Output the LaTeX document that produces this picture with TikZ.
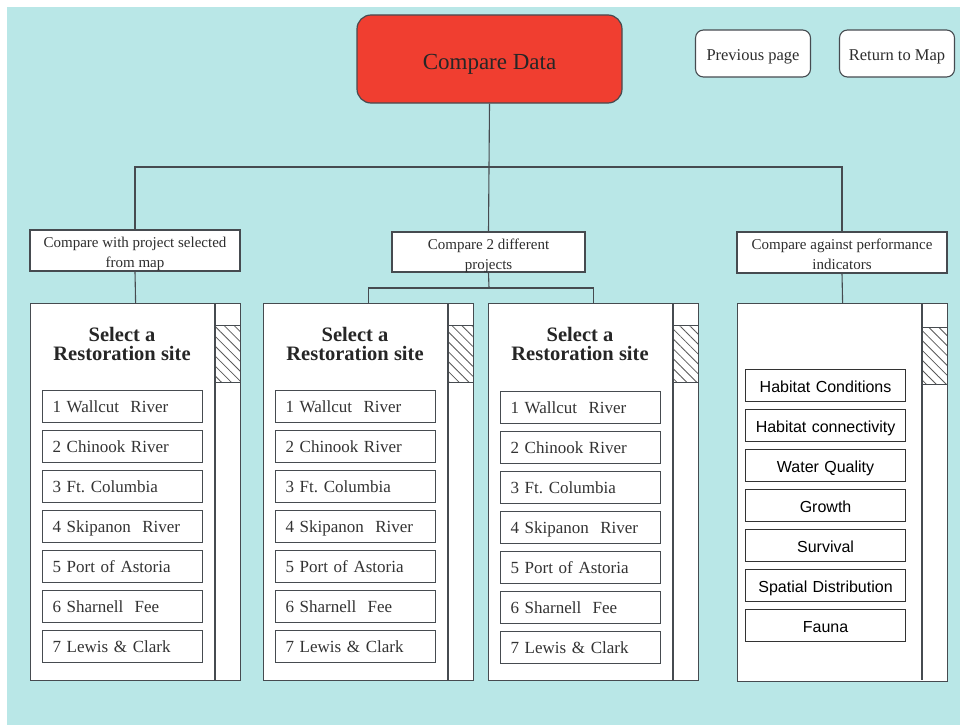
\documentclass[tikz,border=0pt]{standalone}
\usepackage{fontspec}
\setmainfont{Liberation Serif}
\setsansfont{Liberation Sans}
\usetikzlibrary{patterns.meta}
\frenchspacing
\definecolor{bgcyan}{RGB}{185,231,231}
\definecolor{btnred}{RGB}{240,62,48}
\definecolor{edge}{RGB}{70,75,80}
\definecolor{labeltext}{RGB}{45,45,45}
% set text a little below the middle of its box
\newcommand{\lowertext}[2]{\raisebox{-#1}[\height][\depth]{\begin{tabular}{@{}c@{}}#2\end{tabular}}}
\tikzset{
  link/.style={draw=edge, line width=1.1pt},
  headbox/.style={draw=edge, fill=btnred, rounded corners=14pt, line width=1.2pt,
    minimum width=265pt, minimum height=88pt, font=\fontsize{23}{25}\selectfont, text=black!85},
  navbtn/.style={draw=edge, fill=white, rounded corners=8pt, line width=1.1pt,
    minimum width=115pt, minimum height=47pt, font=\fontsize{16.5}{18}\selectfont, text=labeltext},
  choice/.style={draw=edge, fill=white, line width=1.1pt, align=center,
    font=\fontsize{15}{20}\selectfont, text=labeltext, inner sep=0pt},
  panel/.style={draw=edge, fill=white, line width=1.2pt, anchor=north west,
    minimum width=210pt, minimum height=377pt, inner sep=0pt},
  paneltitle/.style={font=\fontsize{20.5}{18.5}\selectfont\bfseries, align=center, text=black!85},
  siteitem/.style={draw=edge, fill=white, line width=1.1pt, anchor=north west,
    minimum width=160pt, minimum height=32pt, text width=140pt, inner xsep=10pt,
    text height=13.5pt, text depth=1.5pt,
    align=left, font=\fontsize{17}{18}\selectfont, text=black!80},
  indicator/.style={draw=black!80, fill=white, line width=1.1pt, anchor=north west,
    minimum width=160pt, minimum height=32pt, text width=150pt, inner xsep=5pt,
    text height=14pt, text depth=1pt,
    align=center, font=\sffamily\fontsize{16}{18}\selectfont, text=black},
  hatch/.style={draw=edge, line width=0.9pt, fill=white,
    pattern={Lines[angle=-45,distance=7pt,line width=0.8pt]}, pattern color=black!65}
}
\begin{document}
\begin{tikzpicture}[x=1pt,y=-1pt]
  % page and backdrop
  \fill[white] (0,0) rectangle (960,725);
  \fill[bgcyan] (7,7) rectangle (960,725);
  \useasboundingbox (0,0) rectangle (960,725);

  % header and navigation
  \node[headbox] (top) at (489.5,59) {\lowertext{5pt}{Compare Data}};
  \node[navbtn] (prev) at (753,53.5) {\lowertext{3pt}{Previous page}};
  \node[navbtn] (map) at (897,53.5) {\lowertext{3pt}{Return to Map}};

  % the three ways of comparing
  \node[choice, minimum width=210pt, minimum height=41pt] (c1) at (135,250.5)
    {\lowertext{3pt}{Compare with project selected\\from map}};
  \node[choice, minimum width=193pt, minimum height=40pt] (c2) at (488.5,252)
    {\lowertext{3pt}{Compare 2 different\\projects}};
  \node[choice, minimum width=210pt, minimum height=41pt] (c3) at (842,252.5)
    {\lowertext{3pt}{Compare against performance\\indicators}};

  % site selection panels and the indicator panel
  \node[panel] (p1) at (30,303) {};
  \node[panel] (p2) at (263,303) {};
  \node[panel] (p3) at (488,303) {};
  \node[panel, minimum height=378pt] (p4) at (737,303) {};

  % scroll bars
  \foreach \p/\x/\h in {p1/215/325, p2/448/325, p3/673/325, p4/922/327}{
    \draw[edge, line width=1.1pt] (\x,303) -- (\x,680);
    \draw[hatch] (\x,\h) rectangle ([xshift=-0.6pt]\p.east |- 0,\h+57);
  }

  % panel titles
  \foreach \p/\x in {p1/122, p2/355, p3/580}{
    \node[paneltitle] (\p-title) at (\x,344) {Select a\\Restoration site};
  }

  % restoration site lists
  \foreach \p/\x/\y in {p1/42/390, p2/275/390, p3/500/391}{
    \foreach \i/\site in {0/1 Wallcut\ \ River, 1/2 Chinook River, 2/3 Ft. Columbia,
                          3/4 Skipanon\ \ River, 4/5 Port of Astoria,
                          5/6 Sharnell\ \ Fee, 6/7 Lewis \& Clark}{
      \node[siteitem] (\p-s\i) at (\x,\y+40*\i) {\site};
    }
  }

  % performance indicators
  \foreach \i/\ind in {0/Habitat Conditions, 1/Habitat connectivity, 2/Water Quality,
                       3/Growth, 4/Survival, 5/Spatial Distribution, 6/Fauna}{
    \node[indicator] (ind\i) at (745,369+40*\i) {\ind};
  }

  % connectors
  \coordinate (hub) at (489,167);
  \coordinate (split) at (489,288);
  \draw[link] (top.south) -- (hub);
  \draw[link] (c1.north) |- (hub) -| (c3.north);
  \draw[link] (hub) -- (c2.north);
  \draw[link] (c1.south) -- (p1.north);
  \draw[link] (c3.south) -- (p4.north);
  \draw[link] (c2.south) -- (split);
  \draw[link] (p2.north) |- (split) -| (p3.north);
\end{tikzpicture}
\end{document}
